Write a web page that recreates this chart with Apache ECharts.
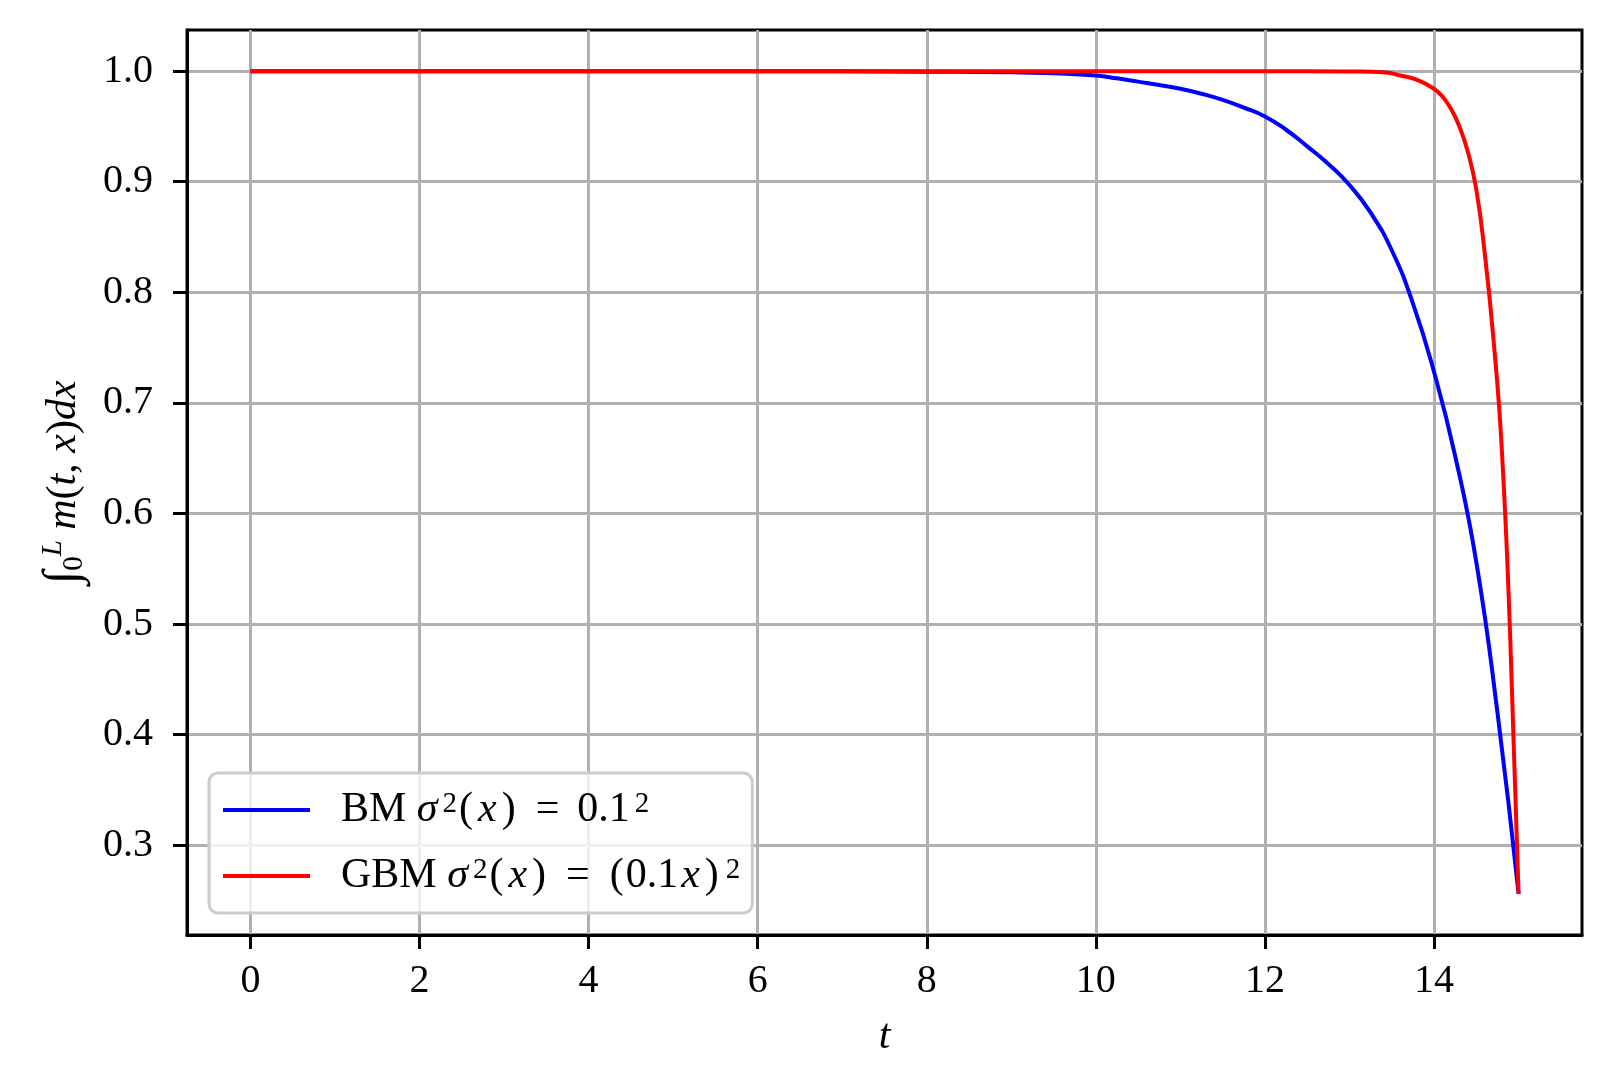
<!DOCTYPE html>
<html>
<head>
<meta charset="utf-8">
<script src="https://cdn.jsdelivr.net/npm/echarts@6/dist/echarts.min.js"></script>
<style>
html,body{margin:0;padding:0;background:#fff;}
#chart{width:1611px;height:1085px;}
</style>
</head>
<body>
<div id="chart"></div>
<script>
// Series data
const bmT = [0, 2, 4, 6, 8, 9, 9.5, 10, 10.25, 10.5, 10.75, 11, 11.25, 11.5, 11.75, 12, 12.25, 12.5, 12.75, 13, 13.25, 13.5, 13.75, 14, 14.25, 14.5, 14.75, 15];
const bmY = [1, 1, 1, 1, 0.9995, 0.999, 0.998, 0.996, 0.9935, 0.9905, 0.9875, 0.984, 0.9795, 0.974, 0.967, 0.959, 0.947, 0.932, 0.916, 0.897, 0.872, 0.838, 0.790, 0.728, 0.652, 0.556, 0.42, 0.256];
const gbmT = [0, 2, 4, 6, 8, 10, 12, 12.5, 13.0, 13.4, 13.6, 13.8, 14.0, 14.1, 14.2, 14.3, 14.4, 14.5, 14.6, 14.7, 14.8, 14.9, 15];
const gbmY = [1, 1, 1, 1, 1, 1, 1, 1, 0.9997, 0.999, 0.996, 0.992, 0.984, 0.977, 0.966, 0.950, 0.927, 0.893, 0.835, 0.76, 0.66, 0.49, 0.256];
const xTicks = [0, 2, 4, 6, 8, 10, 12, 14];
const yTicks = [0.3, 0.4, 0.5, 0.6, 0.7, 0.8, 0.9, 1.0];
const seriesNames = ['BM', 'GBM'];

const FONT = '"Liberation Serif", "DejaVu Serif", serif';
const zip = (a, b) => a.map((v, i) => [v, b[i]]);

const chart = echarts.init(document.getElementById('chart'), null, {renderer: 'canvas'});
const legRich = {
  n: {fontFamily: FONT, fontSize: 42, color: '#000'},
  p: {fontFamily: FONT, fontSize: 42, color: '#000', padding: [0, 2, 0, 2]},
  it: {fontFamily: FONT, fontSize: 42, fontStyle: 'italic', color: '#000'},
  x: {fontFamily: FONT, fontSize: 42, fontStyle: 'italic', color: '#000', padding: [0, 3, 0, 3]},
  eq: {fontFamily: FONT, fontSize: 42, color: '#000', padding: [0, 18, 0, 18]},
  sp: {fontFamily: FONT, fontSize: 29, color: '#000', verticalAlign: 'top', padding: [0, 0, 16, 5]}
};
const nameRich = {
  n: {fontFamily: FONT, fontSize: 42, color: '#000'},
  big: {fontFamily: FONT, fontSize: 50, color: '#000'},
  it: {fontFamily: FONT, fontSize: 42, fontStyle: 'italic', color: '#000'},
  spi: {fontFamily: FONT, fontSize: 29, fontStyle: 'italic', color: '#000', verticalAlign: 'top', padding: [0, 0, 20, 0]},
  sb: {fontFamily: FONT, fontSize: 29, color: '#000', verticalAlign: 'bottom', padding: [14, 0, 0, 0]}
};

chart.setOption({
  animation: false,
  backgroundColor: '#fff',
  grid: {left: 187, right: 29, top: 30, bottom: 150, show: true, borderColor: '#000', borderWidth: 3, outerBoundsMode: 'none'},
  legend: {
    orient: 'vertical',
    left: 209, top: 773,
    data: seriesNames,
    icon: 'rect',
    itemWidth: 87, itemHeight: 4,
    itemGap: 24,
    padding: [16, 12, 16, 14],
    backgroundColor: 'rgba(255,255,255,0.8)',
    borderColor: '#cccccc', borderWidth: 3, borderRadius: 9,
    textStyle: {fontFamily: FONT, fontSize: 42, color: '#000', lineHeight: 40, padding: [0, 0, 0, 26], rich: legRich},
    formatter: function (name) {
      if (name === 'BM') return '{n|BM }{it|σ}{sp|2}{p|(}{x|x}{p|)}{eq|=}{n|0.1}{sp|2}';
      return '{n|GBM }{it|σ}{sp|2}{p|(}{x|x}{p|)}{eq|=}{p|(}{n|0.1}{x|x}{p|)}{sp|2}';
    }
  },
  xAxis: {
    type: 'value', min: -0.75, max: 15.75,
    name: 't', nameLocation: 'middle', nameGap: 81,
    nameTextStyle: {fontFamily: FONT, fontSize: 42, fontStyle: 'italic', color: '#000'},
    axisLine: {show: true, onZero: false, lineStyle: {color: '#000', width: 3}},
    axisTick: {show: true, length: 14, lineStyle: {color: '#000', width: 3}, customValues: xTicks},
    axisLabel: {fontFamily: FONT, fontSize: 40, color: '#000', margin: 26, customValues: xTicks, formatter: v => String(v)},
    splitLine: {show: true, lineStyle: {color: '#b0b0b0', width: 3}}
  },
  yAxis: {
    type: 'value', min: 0.2188, max: 1.0372,
    name: '{big|∫}{sb|0}{spi|L}{it| m}{n|(}{it|t}{n|, }{it|x}{n|)}{it|dx}',
    nameLocation: 'middle', nameGap: 98, nameRotate: 90,
    nameTextStyle: {fontFamily: FONT, fontSize: 42, color: '#000', rich: nameRich},
    axisLine: {show: true, onZero: false, lineStyle: {color: '#000', width: 3}},
    axisTick: {show: true, length: 14, lineStyle: {color: '#000', width: 3}, customValues: yTicks},
    axisLabel: {fontFamily: FONT, fontSize: 40, color: '#000', margin: 34, customValues: yTicks, formatter: v => v.toFixed(1)},
    splitLine: {show: true, lineStyle: {color: '#b0b0b0', width: 3}}
  },
  series: [
    {name: seriesNames[0], type: 'line', data: zip(bmT, bmY), showSymbol: false, smooth: 0.5,
     lineStyle: {color: '#0000ff', width: 4}, itemStyle: {color: '#0000ff'}, z: 3},
    {name: seriesNames[1], type: 'line', data: zip(gbmT, gbmY), showSymbol: false, smooth: 0.5,
     lineStyle: {color: '#ff0000', width: 4}, itemStyle: {color: '#ff0000'}, z: 4}
  ]
});
</script>
</body>
</html>
